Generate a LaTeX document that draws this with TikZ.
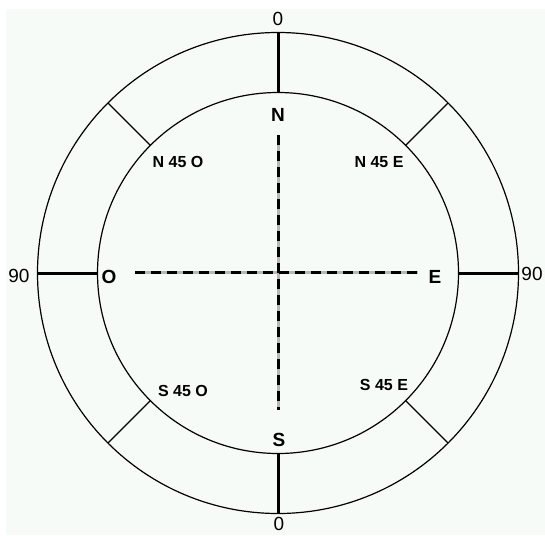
\documentclass[tikz,border=0pt]{standalone}
\usepackage{fontspec}
\setmainfont{Liberation Sans}
\usetikzlibrary{positioning}
\definecolor{paper}{HTML}{F6FBF8}
\definecolor{ink}{HTML}{000000}
\definecolor{dashgap}{HTML}{B4B8B6}
\tikzset{
  ring/.style={circle,draw=ink,line width=1.2pt,inner sep=0pt,outer sep=0pt},
  tick/.style={draw=ink,line width=3pt},
  spoke/.style={draw=ink,line width=1.2pt},
  axisbed/.style={draw=dashgap,line width=3pt},
  axisline/.style={draw=ink,line width=3pt,dash pattern=on 10pt off 6pt},
  cardinal/.style={font=\fontsize{19}{22}\selectfont\bfseries,anchor=base,inner sep=0pt,text=ink},
  degree/.style={font=\fontsize{19}{22}\selectfont,anchor=base,inner sep=0pt,text=ink},
  bearing/.style={font=\fontsize{16}{19}\selectfont\bfseries,anchor=base,inner sep=0pt,text=ink}
}

\begin{document}
\begin{tikzpicture}[x=1pt,y=-1pt]
  \useasboundingbox (0,0) rectangle (545,535);
  \fill[white] (0,0) rectangle (545,535);
  \fill[paper] (6,9) rectangle (545,535);

  \node[ring,minimum size=481pt] (outer) at (278,273) {};
  \node[ring,minimum size=361pt] (inner) at (278,273) {};

  \draw[tick] (inner.north) -- (outer.north);
  \draw[tick] (inner.south) -- (outer.south);
  \draw[tick] (inner.west) -- (outer.west);
  \draw[tick] (inner.east) -- (outer.east);
  \draw[spoke] (inner.45) -- (outer.45);
  \draw[spoke] (inner.135) -- (outer.135);
  \draw[spoke] (inner.225) -- (outer.225);
  \draw[spoke] (inner.315) -- (outer.315);

  \coordinate (ntip) at (278,135);
  \coordinate (stip) at (278,410);
  \coordinate (wtip) at (135,272);
  \coordinate (etip) at (418,272);
  \draw[axisbed] (ntip) -- (stip);
  \draw[axisbed] (wtip) -- (etip);
  \draw[axisline] (ntip) -- (stip);
  \draw[axisline] (wtip) -- (etip);

  \node[cardinal] (north) at (278,121) {N};
  \node[cardinal] (south) at (279,446) {S};
  \node[cardinal] (west) at (109,283) {O};
  \node[cardinal] (east) at (435,283) {E};

  \node[degree] (dtop) at (278,26) {0};
  \node[degree] (dbot) at (279,530) {0};
  \node[degree] (dleft) at (19,282) {90};
  \node[degree] (dright) at (532,280) {90};

  \node[bearing] (nw) at (178,167) {N 45 O};
  \node[bearing] (ne) at (379,167) {N 45 E};
  \node[bearing] (sw) at (183,396) {S 45 O};
  \node[bearing] (se) at (384,390) {S 45 E};
\end{tikzpicture}
\end{document}
